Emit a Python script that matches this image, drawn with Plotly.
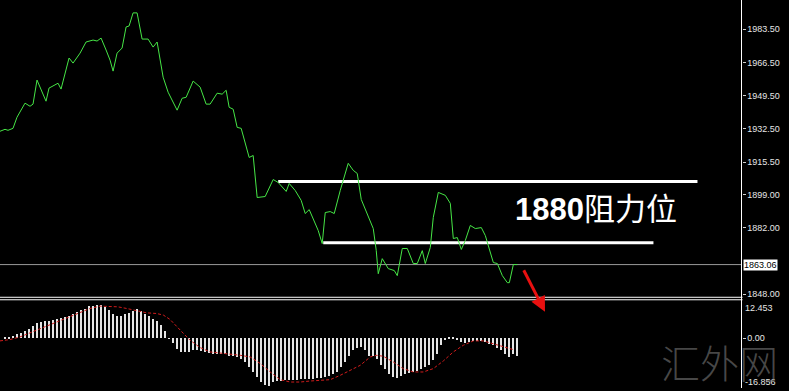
import plotly.graph_objects as go

# ---------------- data (x = bar index) ----------------
price_idx = [-1.25, 0, 0.75, 2, 3, 5, 6.25, 7, 8, 9.25, 10.25, 11, 12.5, 13.25, 14, 14.75, 16, 17,
             18.75, 20.25, 21.25, 22, 23, 24, 25.25, 26.25, 27, 28, 29.25, 30.25, 31, 32, 33, 34.25,
             35.75, 37, 38, 39.5, 40.75, 43, 44.25, 45.25, 47, 48.75, 50.25, 51.25, 53, 54.25, 55.25,
             56, 57, 58, 59, 60.5, 61, 62, 63, 65, 67, 68.25, 69.25, 70.25, 71, 72.5, 74, 75, 76, 77.5,
             78.25, 79.25, 80, 81.25, 82.25, 83.75, 85.75, 87, 88, 89, 90.5, 92, 92.75, 93.25, 94.25,
             95.75, 97.25, 98, 99.25, 100.5, 102, 103, 104.25, 105, 106.25, 107, 108.25, 110, 111.25,
             112, 113, 114, 115, 116.25, 117.5, 119, 120, 122, 123, 124.25, 125.5, 126, 127, 128]
price_val = [1931.3, 1932.3, 1931.8, 1932.8, 1938.5, 1945.7, 1944.1, 1945.2, 1957.5, 1951.3, 1946.7,
             1953.4, 1954.9, 1955.9, 1952.9, 1959.0, 1968.8, 1966.2, 1971.3, 1977.0, 1977.5, 1978.0,
             1977.5, 1979.0, 1972.9, 1967.7, 1962.1, 1971.3, 1973.9, 1984.7, 1985.2, 1991.9, 1991.9,
             1978.5, 1978.5, 1974.4, 1977.0, 1959.0, 1951.3, 1942.1, 1948.2, 1948.7, 1957.0, 1953.9,
             1945.2, 1945.2, 1950.8, 1950.3, 1952.3, 1943.6, 1942.6, 1933.3, 1932.8, 1921.5, 1917.9,
             1918.9, 1897.4, 1897.9, 1906.6, 1905.1, 1902.5, 1900.5, 1904.6, 1901.0, 1895.9, 1889.2,
             1891.2, 1884.0, 1880.5, 1873.8, 1889.7, 1890.2, 1889.2, 1901.0, 1914.9, 1911.3, 1909.7,
             1896.4, 1889.2, 1881.5, 1870.2, 1858.4, 1866.1, 1861.0, 1860.0, 1857.4, 1871.3, 1871.3,
             1863.6, 1863.6, 1870.2, 1863.6, 1871.8, 1887.2, 1900.0, 1898.5, 1894.4, 1876.4, 1876.9,
             1870.8, 1875.4, 1883.1, 1881.5, 1882.0, 1877.9, 1864.1, 1863.6, 1857.4, 1853.8, 1853.8,
             1863.1, 1863.06]

macd_hist = [0.22, 0.44, 0.67, 1.33, 1.89, 2.44, 3.11, 4.0, 5.22, 5.56, 5.67, 5.78, 6.0, 6.44, 6.89,
             7.11, 7.56, 8.22, 8.78, 9.33, 9.89, 10.67, 10.89, 11.0, 11.0, 10.44, 9.33, 8.0, 7.56, 7.33,
             8.0, 8.44, 9.11, 9.89, 9.11, 8.22, 7.33, 6.56, 5.78, 4.33, 2.44, -0.11, -1.56, -3.44,
             -4.56, -4.56, -4.56, -4.0, -3.78, -4.22, -4.56, -4.89, -5.11, -5.11, -5.11, -5.33, -5.67,
             -5.89, -6.22, -6.78, -7.89, -9.56, -11.22, -12.89, -14.56, -15.33, -15.67,
             -14.56, -14.22, -14.0, -13.78, -13.78, -13.78, -13.78, -13.44, -13.44, -13.44, -13.44,
             -13.11, -13.11, -12.67, -12.33, -11.78, -11.22, -9.56, -7.89, -5.67, -4.0, -3.11, -2.89,
             -4.0, -5.67, -5.67, -6.78, -8.67, -10.11, -11.78, -12.67, -13.11, -12.33, -11.78, -11.56,
             -11.22, -10.67, -10.11, -9.33, -8.67, -7.11, -5.11, -2.33, -0.67, 0.3, 0.4, -0.67, -1.22,
             -1.56, -1.22, -0.89, -0.89, -0.89, -1.22, -1.78, -2.33, -3.11, -4.0, -5.11, -6.22, -5.11,
             -5.67]

signal_idx = [-1.25, 1.25, 3.75, 6.25, 8.75, 11.25, 13.75, 16.25, 18.75, 21.25, 23.75, 26.25, 28.2,
              30.4, 32.9, 35.4, 37.9, 39.6, 41.25, 42.9, 44.6, 46.25, 48.75, 51.25, 53.75, 56.25,
              58.75, 61.25, 63.75, 66.25, 68.75, 71.25, 73.75, 76.25, 78.75, 81.25, 83.75, 86.25,
              88.75, 91.25, 92.9, 94.5, 97, 99.5, 102, 104.5, 107, 109.5, 112, 114.5, 117, 119.5,
              122, 124.5, 127]
signal_val = [-0.89, -0.44, 0.44, 1.78, 3.22, 4.67, 5.78, 7.11, 8.44, 9.89, 10.67, 10.67, 10.44,
              9.89, 9.11, 8.44, 8.22, 7.67, 6.22, 3.78, 1.56, -0.67, -3.11, -4.56, -4.89, -5.11,
              -5.67, -6.22, -8.4, -11.2, -13.78, -14.56, -14.56, -14.22, -14.0, -13.78, -12.33,
              -10.67, -9.0, -6.22, -5.67, -6.0, -7.89, -10.11, -11.22, -11.22, -10.11, -7.56,
              -4.56, -2.33, -0.89, -0.89, -1.78, -2.89, -3.78]

y_ticks = [1848.00, 1882.00, 1899.00, 1915.50, 1932.50, 1949.50, 1966.50, 1983.50]
y_tick_text = ["%.2f" % v for v in y_ticks]
last_price = 1863.06
upper_level = 1905.6
upper_span = [68.25, 173]
lower_level = 1874.3
lower_span = [79.5, 162]
macd_top, macd_bottom = 12.453, -16.856
label_num = "1880"
label_cn = "阻力位"
watermark = "汇外网"

W, H = 789, 391
HE = 387.0          # effective rendered height used for vertical placement
AXIS_X = 741.5


def py(px):
    return 1 - px / HE


fig = go.Figure()

fig.add_trace(go.Scatter(x=[-1.25, 184], y=[last_price, last_price], mode="lines",
                         line=dict(color="#9a9a9a", width=1), xaxis="x", yaxis="y", hoverinfo="skip"))
fig.add_trace(go.Scatter(x=upper_span, y=[upper_level, upper_level], mode="lines",
                         line=dict(color="#ffffff", width=3), xaxis="x", yaxis="y"))
fig.add_trace(go.Scatter(x=lower_span, y=[lower_level, lower_level], mode="lines",
                         line=dict(color="#ffffff", width=3), xaxis="x", yaxis="y"))
fig.add_trace(go.Scatter(x=price_idx, y=price_val, mode="lines",
                         line=dict(color="#46e646", width=1), xaxis="x", yaxis="y"))

fig.add_trace(go.Bar(x=list(range(len(macd_hist))), y=macd_hist, width=0.3,
                     marker=dict(color="#e4e4e4", line=dict(width=0)), xaxis="x2", yaxis="y2"))
fig.add_trace(go.Scatter(x=signal_idx, y=signal_val, mode="lines",
                         line=dict(color="#d01c1c", width=1, dash="3px,2px"), xaxis="x2", yaxis="y2"))

# subplot: 12.453 at px 300, 3.0 px per unit; bottom of figure at px HE
sub_bottom_val = macd_top - (HE - 300) / 3.0
main_dom = [py(295), 1]
sub_dom = [0, py(300)]
xdom = [0, AXIS_X / W]

fig.update_layout(
    width=W, height=H, margin=dict(l=0, r=0, t=0, b=0),
    paper_bgcolor="#000000", plot_bgcolor="#000000", showlegend=False, bargap=0,
    xaxis=dict(domain=xdom, range=[-1.25, 184], showgrid=False, zeroline=False,
               showticklabels=False, anchor="y"),
    xaxis2=dict(domain=xdom, range=[-1.25, 184], showgrid=False, zeroline=False,
                showticklabels=False, anchor="y2", matches="x"),
    yaxis=dict(domain=main_dom, range=[1847.1, 1998.5], side="right", showgrid=False,
               zeroline=False, tickvals=y_ticks, ticktext=y_tick_text, ticks="outside",
               ticklen=3, tickcolor="#cfcfcf",
               tickfont=dict(family="Liberation Sans", size=9, color="#e6e6e6"), anchor="x"),
    yaxis2=dict(domain=sub_dom, range=[sub_bottom_val, macd_top], side="right", showgrid=False,
                zeroline=False, tickvals=[0], ticktext=["0.00"], ticks="outside", ticklen=3,
                tickcolor="#cfcfcf",
                tickfont=dict(family="Liberation Sans", size=9, color="#e6e6e6"), anchor="x2"),
)

shapes = [
    dict(type="line", xref="paper", yref="paper", x0=AXIS_X / W, x1=AXIS_X / W, y0=0, y1=1,
         line=dict(color="#ffffff", width=1)),
    dict(type="line", xref="paper", yref="paper", x0=0, x1=(AXIS_X + 1) / W,
         y0=py(296.5), y1=py(296.5), line=dict(color="#ffffff", width=1)),
    dict(type="line", xref="paper", yref="paper", x0=0, x1=(AXIS_X + 1) / W,
         y0=py(299), y1=py(299), line=dict(color="#ffffff", width=1)),
]
fig.update_layout(shapes=shapes)

ann = [
    dict(xref="paper", yref="y", x=743 / W, y=last_price, text="1863.06", showarrow=False,
         xanchor="left", yanchor="middle", bgcolor="#ffffff", borderpad=0,
         font=dict(family="Liberation Sans", size=9, color="#000000")),
    dict(xref="paper", yref="paper", x=743 / W, y=py(300), text="%.3f" % macd_top,
         showarrow=False, xanchor="left", yanchor="top",
         font=dict(family="Liberation Sans", size=9, color="#e6e6e6")),
    dict(xref="paper", yref="paper", x=743 / W, y=py(388), text="%.3f" % macd_bottom,
         showarrow=False, xanchor="left", yanchor="bottom",
         font=dict(family="Liberation Sans", size=9, color="#e6e6e6")),
    dict(xref="paper", yref="paper", x=513 / W, y=py(209), 
         text="<b>%s</b>%s" % (label_num, label_cn),
         showarrow=False, xanchor="left", yanchor="middle",
         font=dict(family="Liberation Sans, Noto Sans CJK SC", size=31, color="#ffffff")),
    dict(xref="paper", yref="paper", x=545 / W, y=py(311), text="", showarrow=True,
         axref="pixel", ayref="pixel", ax=-22, ay=-43, arrowhead=2, arrowsize=1,
         arrowwidth=3, arrowcolor="#e81010"),
    dict(xref="paper", yref="paper", x=719 / W, y=py(360), text=watermark,
         showarrow=False, xanchor="center", yanchor="middle",
         font=dict(family="Noto Sans CJK SC", size=39, weight=300, color="rgba(120,120,120,0.6)")),
]
fig.update_layout(annotations=ann)

fig.write_html("out.html")
